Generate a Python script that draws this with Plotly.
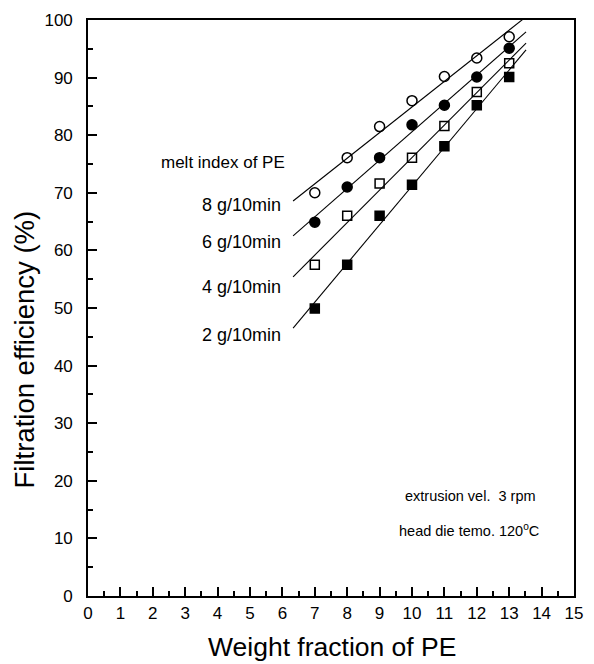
import numpy as np
import plotly.graph_objects as go

# ---- data ----
weight_fraction = [7, 8, 9, 10, 11, 12, 13]
mi_8 = [70.0, 76.1, 81.5, 86.0, 90.2, 93.4, 97.1]
mi_6 = [64.9, 71.0, 76.1, 81.8, 85.2, 90.1, 95.1]
mi_4 = [57.5, 66.0, 71.6, 76.1, 81.6, 87.5, 92.5]
mi_2 = [49.9, 57.5, 66.0, 71.4, 78.1, 85.2, 90.1]
series_labels = ["8 g/10min", "6 g/10min", "4 g/10min", "2 g/10min"]
x_ticks = list(range(0, 16))
y_ticks = list(range(0, 101, 10))

FIT_X_START = 6.33
FIT_X_END = 13.52

FONT = "Liberation Sans, Arial, Helvetica, sans-serif"

# plot area in pixels
W, H = 594, 664
L, R, T, B = 88, 11, 17, 68
PW = W - L - R
PH = H - T - B


def px_x(p):
    return (p - L) / PW


def px_y(p):
    return (H - B - p) / PH


fig = go.Figure()

symbols = ["circle-open", "circle", "square-open", "square"]
sizes = [10, 10, 9, 9]
series = [mi_8, mi_6, mi_4, mi_2]

for vals, sym, sz, lab in zip(series, symbols, sizes, series_labels):
    fig.add_trace(go.Scatter(
        x=weight_fraction, y=vals, mode="markers", name=lab,
        marker=dict(symbol=sym, size=sz, color="black",
                    line=dict(color="black", width=1.5)),
        showlegend=False, cliponaxis=False,
    ))
    slope, intercept = np.polyfit(weight_fraction, vals, 1)
    xs = np.array([FIT_X_START, FIT_X_END])
    fig.add_trace(go.Scatter(
        x=xs, y=slope * xs + intercept, mode="lines",
        line=dict(color="black", width=1.1),
        showlegend=False, hoverinfo="skip",
    ))

annotations = []


def add_text(text, xpx, ypx, size, xanchor="left", angle=0):
    annotations.append(dict(
        text=text, x=px_x(xpx), y=px_y(ypx), xref="paper", yref="paper",
        xanchor=xanchor, yanchor="middle", showarrow=False, textangle=angle,
        font=dict(family=FONT, size=size, color="black"),
    ))


add_text("melt index of PE", 291, 160, 17, xanchor="right")
label_y = [203, 240, 285, 334]
for lab, yy in zip(series_labels, label_y):
    add_text(lab, 287, yy, 18, xanchor="right")

add_text("extrusion vel.  3 rpm", 546, 495, 14.5, xanchor="right")
add_text("head die temo. 120<sup>o</sup>C", 549, 530, 14.5, xanchor="right")

add_text("Weight fraction of PE", 337, 647, 26.5, xanchor="center")
add_text("Filtration efficiency (%)", 23, 348, 27.5, xanchor="center", angle=-90)

axis_common = dict(
    showline=True, linecolor="black", linewidth=1.6, mirror=True,
    ticks="inside", ticklen=9, tickwidth=1.5, tickcolor="black",
    showgrid=False, zeroline=False,
    tickfont=dict(family=FONT, size=17, color="black"),
)

fig.update_layout(
    width=W, height=H,
    margin=dict(l=L, r=R, t=T, b=B),
    paper_bgcolor="white", plot_bgcolor="white",
    annotations=annotations,
    xaxis=dict(range=[0, 15], tickvals=x_ticks, ticktext=[str(v) for v in x_ticks],
               ticklabelstandoff=1,
               minor=dict(ticks="inside", ticklen=5, tickwidth=1.5,
                          tickcolor="black", dtick=0.5, tick0=0),
               **axis_common),
    yaxis=dict(range=[0, 100], tickvals=y_ticks, ticktext=[str(v) for v in y_ticks],
               ticklabelstandoff=10,
               minor=dict(ticks="inside", ticklen=5, tickwidth=1.5,
                          tickcolor="black", dtick=5, tick0=0),
               **axis_common),
)

fig.write_html(
    "out.html",
    config={"displayModeBar": False},
    post_script="document.body.style.margin='0';document.body.style.padding='0';",
)
